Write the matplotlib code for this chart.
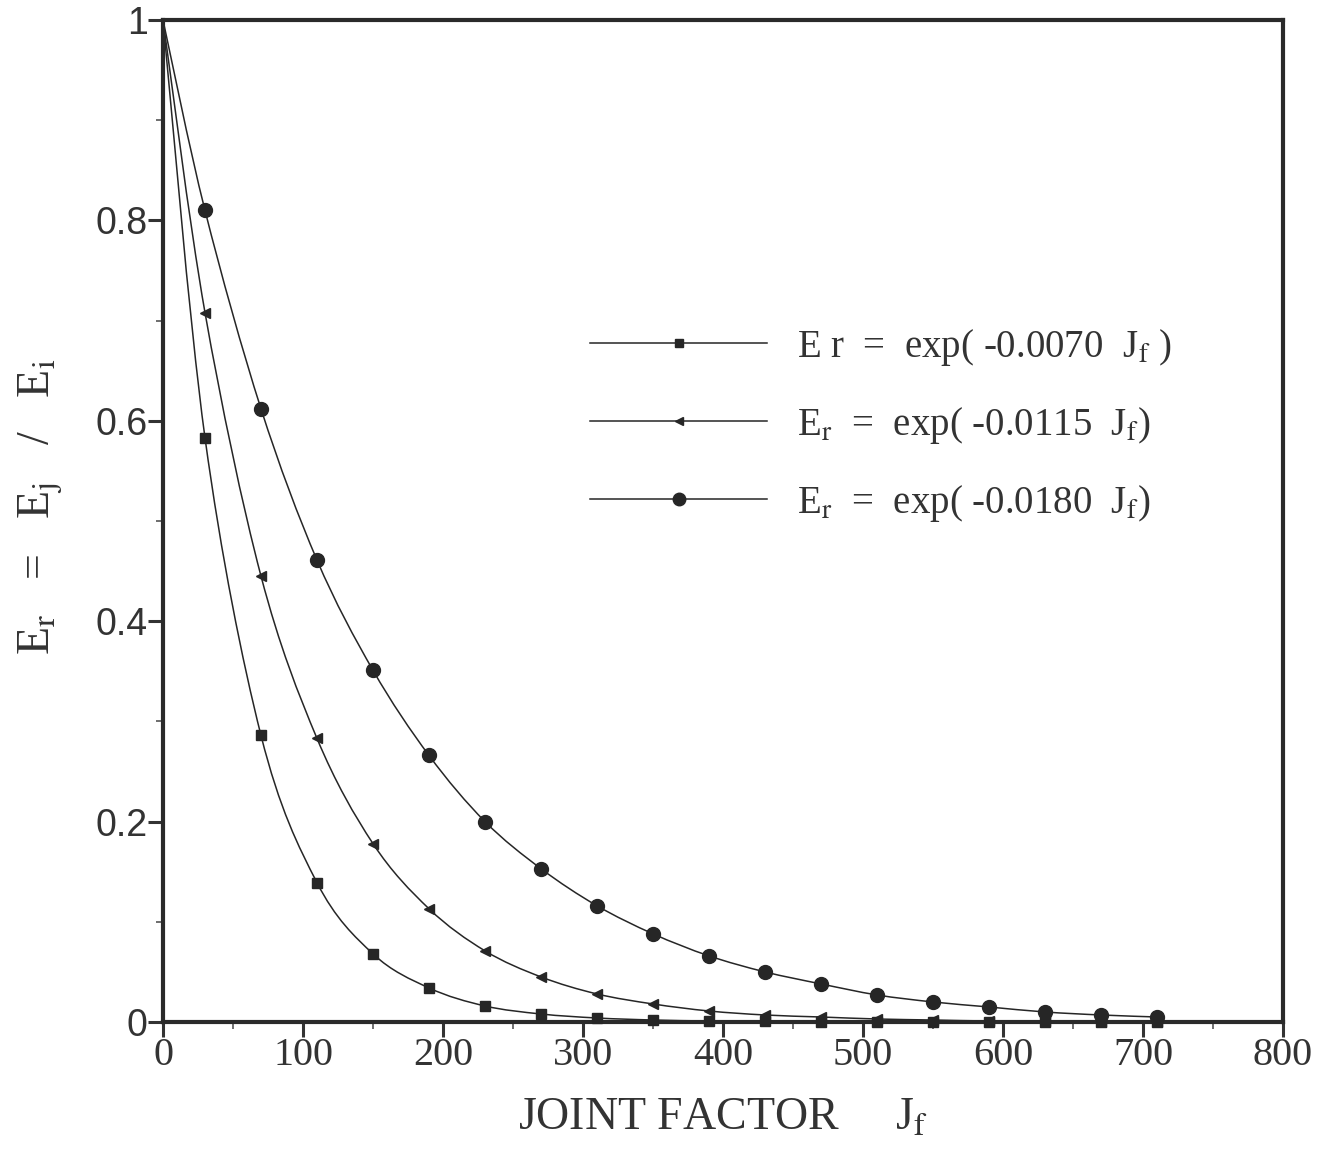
import matplotlib
matplotlib.use("Agg")
import matplotlib.pyplot as plt
from matplotlib.lines import Line2D
from matplotlib.path import Path
from matplotlib.patches import PathPatch
from matplotlib.ticker import MultipleLocator

plt.rcParams["font.family"] = ["Liberation Serif", "DejaVu Serif"]
plt.rcParams["mathtext.fontset"] = "stix"

# ---- Data ---------------------------------------------------------------
joint_factor = [30, 70, 110, 150, 190, 230, 270, 310, 350, 390,
                430, 470, 510, 550, 590, 630, 670, 710]

er_square = [0.583, 0.286, 0.139, 0.068, 0.034, 0.016, 0.008, 0.004, 0.002,
             0.001, 0.0006, 0.0004, 0.0002, 0.0001, 0.0001, 0.0, 0.0, 0.0]
er_triangle = [0.708, 0.445, 0.283, 0.178, 0.113, 0.071, 0.045, 0.028, 0.018,
               0.011, 0.007, 0.005, 0.003, 0.002, 0.001, 0.001, 0.0005, 0.0003]
er_circle = [0.810, 0.612, 0.461, 0.351, 0.266, 0.200, 0.153, 0.116, 0.088,
             0.066, 0.050, 0.038, 0.027, 0.020, 0.015, 0.010, 0.007, 0.005]

# every curve starts at Er = 1 for Jf = 0
start_x, start_y = 0, 1.0

labels = [r"E r  =  exp( -0.0070  J$_\mathrm{f}$ )",
          r"E$_\mathrm{r}$  =  exp( -0.0115  J$_\mathrm{f}$)",
          r"E$_\mathrm{r}$  =  exp( -0.0180  J$_\mathrm{f}$)"]
markers = ["s", "<", "o"]
marker_sizes = [7, 7, 10]

x_ticks = [0, 100, 200, 300, 400, 500, 600, 700, 800]
y_ticks = [0, 0.2, 0.4, 0.6, 0.8, 1.0]
y_tick_labels = ["0", "0.2", "0.4", "0.6", "0.8", "1"]

INK = "#262626"


def smooth_path(xs, ys):
    """Cubic Bezier path (Catmull-Rom style) running through the points."""
    pts = list(zip(xs, ys))
    verts = [pts[0]]
    codes = [Path.MOVETO]
    for i in range(len(pts) - 1):
        p0 = pts[i - 1] if i > 0 else pts[i]
        p1, p2 = pts[i], pts[i + 1]
        p3 = pts[i + 2] if i + 2 < len(pts) else pts[i + 1]
        c1 = (p1[0] + (p2[0] - p0[0]) / 6, p1[1] + (p2[1] - p0[1]) / 6)
        c2 = (p2[0] - (p3[0] - p1[0]) / 6, p2[1] - (p3[1] - p1[1]) / 6)
        verts += [c1, c2, p2]
        codes += [Path.CURVE4] * 3
    return Path(verts, codes)


# ---- Figure --------------------------------------------------------------
fig = plt.figure(figsize=(13.22, 11.5), dpi=100)
ax = fig.add_axes([0.1233, 0.1113, 0.8472, 0.8713])

handles = []
for ys, mk, ms, lab in zip([er_square, er_triangle, er_circle],
                           markers, marker_sizes, labels):
    curve = smooth_path([start_x] + joint_factor, [start_y] + ys)
    ax.add_patch(PathPatch(curve, transform=ax.transData, facecolor="none",
                           edgecolor=INK, lw=1.1, clip_on=True))
    ax.plot(joint_factor, ys, ls="none", marker=mk, markersize=ms,
            color=INK, clip_on=False, zorder=3)
    handles.append(Line2D([], [], color=INK, lw=1.1, marker=mk,
                          markersize=ms * 0.9, label=lab))

ax.set_xlim(0, 800)
ax.set_ylim(0, 1)

ax.set_xticks(x_ticks)
ax.set_xticklabels([str(v) for v in x_ticks], fontsize=29,
                   family=["Liberation Serif"], color="#333333")
ax.set_yticks(y_ticks)
ax.set_yticklabels(y_tick_labels, fontsize=27,
                   family=["Liberation Sans"], color="#333333")
ax.xaxis.set_minor_locator(MultipleLocator(50))
ax.yaxis.set_minor_locator(MultipleLocator(0.1))
ax.tick_params(which="major", direction="out", length=11, width=2.2,
               color="#333333")
ax.tick_params(which="minor", direction="out", length=5, width=1.2,
               color="#555555")
ax.tick_params(axis="x", which="major", pad=0)
ax.tick_params(axis="y", which="major", pad=0)

for sp in ax.spines.values():
    sp.set_linewidth(3)
    sp.set_color("#2a2a2a")

ax.set_xlabel(r"JOINT FACTOR     J$_\mathrm{f}$", fontsize=33,
              color="#333333", labelpad=16)
ax.set_ylabel(r"E$_\mathrm{r}$   =   E$_\mathrm{j}$   /   E$_\mathrm{i}$",
              fontsize=33, color="#333333")
ax.yaxis.set_label_coords(-0.088, 0.514)

leg = ax.legend(handles=handles, loc="upper left",
                bbox_to_anchor=(0.364, 0.713), frameon=False, fontsize=28,
                handlelength=4.55, handletextpad=0.77, labelspacing=0.95,
                borderpad=0)
for t in leg.get_texts():
    t.set_color("#333333")

fig.savefig("out.png", dpi=100)
